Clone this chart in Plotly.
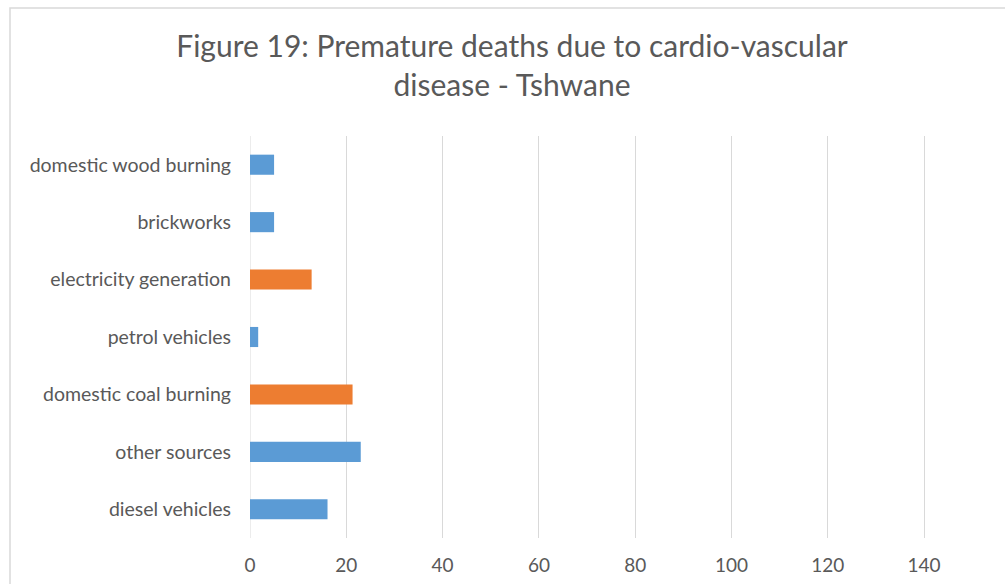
import plotly.graph_objects as go

categories = ["diesel vehicles", "other sources", "domestic coal burning", "petrol vehicles",
              "electricity generation", "brickworks", "domestic wood burning"]
values = [16.1, 23.0, 21.3, 1.7, 12.8, 5.0, 5.0]
bar_colors = ["#5b9bd5", "#5b9bd5", "#ed7d31", "#5b9bd5", "#ed7d31", "#5b9bd5", "#5b9bd5"]
x_ticks = [0, 20, 40, 60, 80, 100, 120, 140]

FONT = "Lato"
fig = go.Figure(go.Bar(
    y=categories, x=values, orientation="h",
    marker=dict(color=bar_colors, line=dict(width=0)),
    width=0.35, hoverinfo="x+y",
))

W, H = 1005, 584
L, R, T, B = 250, 0, 136, 46
pw, ph = W - L - R, H - T - B
def px(p): return (p - L) / pw
def py(p): return 1 - (p - T) / ph

fig.update_layout(
    width=W, height=H,
    margin=dict(l=L, r=R, t=T, b=B, pad=0),
    paper_bgcolor="white", plot_bgcolor="white",
    showlegend=False,
    font=dict(family=FONT, color="#595959"),
    title=dict(text="Figure 19: Premature deaths due to cardio-vascular<br>disease - Tshwane",
               x=px(512), xref="paper", xanchor="center", y=1 - 57/H, yanchor="middle",
               font=dict(size=30, color="#595959", family=FONT)),
    xaxis=dict(range=[0, pw / 4.815], tickvals=x_ticks, showgrid=True, gridcolor="#d9d9d9",
               gridwidth=1, zeroline=False, showline=False, ticks="",
               tickfont=dict(size=19, color="#595959"), ticklabelstandoff=14, fixedrange=True),
    yaxis=dict(showgrid=False, zeroline=False, showline=False, ticks="",
               tickfont=dict(size=19.5, color="#595959"), ticklabelstandoff=18,
               range=[-0.5, 6.5]),
    shapes=[dict(type="rect", xref="paper", yref="paper",
                 x0=px(10), x1=px(1030), y0=py(600), y1=py(8),
                 line=dict(color="#d9d9d9", width=1.5), fillcolor="rgba(0,0,0,0)", layer="below"),
            dict(type="line", xref="x", yref="paper", x0=0, x1=0, y0=0, y1=1,
                 line=dict(color="#d9d9d9", width=1), layer="below")],
)
fig.write_html("out.html", config={"displayModeBar": False},
               post_script="document.body.style.margin='0';document.body.style.overflow='hidden';")
